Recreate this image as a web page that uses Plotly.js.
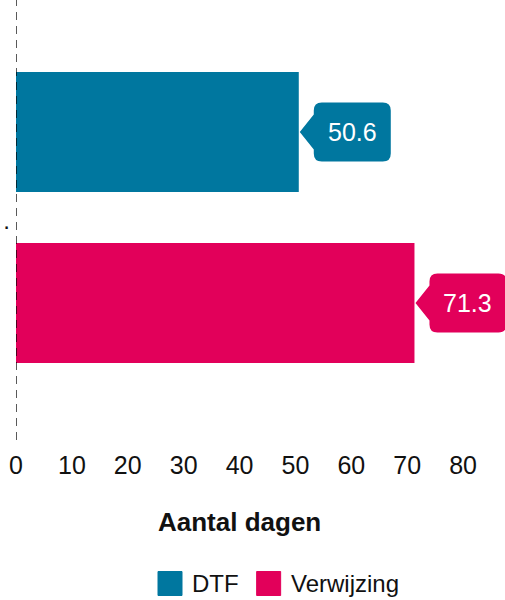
<!DOCTYPE html>
<html>
<head>
<meta charset="utf-8">
<script src="https://cdn.plot.ly/plotly-3.0.1.min.js"></script>
<style>html,body{margin:0;padding:0;background:#fff;}#chart{width:505px;height:600px;}</style>
</head>
<body>
<div id="chart"></div>
<script>
// ---- data ----
const categories = ['.'];
const seriesNames = ['DTF', 'Verwijzing'];
const dtfValues = [50.6];
const verwijzingValues = [71.3];
const tickValues = [0, 10, 20, 30, 40, 50, 60, 70, 80];
const axisTitle = 'Aantal dagen';

// ---- style ----
const colors = ['#00779F', '#E2005A'];
const FONT = 'Arial, "Liberation Sans", sans-serif';
const W = 505, H = 600;
const M = {l: 16, r: 0, t: 0, b: 165};
const PW = W - M.l - M.r, PH = H - M.t - M.b;
const XMAX = 87.5;            // axis range, ticks shown only up to 80
const BARGAP = 0.214, BARGROUPGAP = 0.298;
const px2x = p => (p - M.l) / PW;
const py2y = p => (H - M.b - p) / PH;

const seriesValues = [dtfValues, verwijzingValues];
const data = seriesNames.map((name, i) => ({
  type: 'bar', orientation: 'h', name: name,
  y: categories, x: seriesValues[i],
  marker: {color: colors[i]},
  hoverinfo: 'none', showlegend: false
}));

// centre offsets of grouped bars (in category units)
const groupW = 1 - BARGAP;
const offsets = seriesNames.map((_, i) => -groupW / 2 + groupW / seriesNames.length * (i + 0.5));

const shapes = [{
  type: 'line', xref: 'x', yref: 'paper', x0: 0, x1: 0, y0: py2y(440), y1: 1,
  line: {color: 'rgba(0,0,0,0.65)', width: 2, dash: '8px,6px'}, layer: 'above'
}];
const annotations = [];

const calloutPath = 'M1,0 L15,17.5 L15,21.5 Q15,29.5 23,29.5 L84,29.5 Q92,29.5 92,21.5 L92,-21.5 Q92,-29.5 84,-29.5 L23,-29.5 Q15,-29.5 15,-21.5 L15,-17.5 Z';

seriesNames.forEach((name, i) => {
  seriesValues[i].forEach((v, j) => {
    const yc = j + offsets[i];
    shapes.push({
      type: 'path', xref: 'x', yref: 'y', xsizemode: 'pixel', ysizemode: 'pixel',
      xanchor: v, yanchor: yc, path: calloutPath,
      fillcolor: colors[i], line: {width: 0}, layer: 'above'
    });
    annotations.push({
      xref: 'x', yref: 'y', x: v, y: yc, xshift: 53.5, showarrow: false,
      text: v.toFixed(1), font: {family: FONT, size: 25, color: '#ffffff'},
      xanchor: 'center', yanchor: 'middle'
    });
  });
});

// axis title, centred under the 0–80 tick span
annotations.push({
  xref: 'x', yref: 'paper', x: (tickValues[0] + tickValues[tickValues.length - 1]) / 2,
  y: py2y(522), showarrow: false, xanchor: 'center', yanchor: 'middle',
  text: '<b>' + axisTitle + '</b>', font: {family: FONT, size: 26, color: '#111111'}
});

// manual legend (large rounded swatches)
const ctx = document.createElement('canvas').getContext('2d');
ctx.font = '24px ' + FONT;
let lx = 158;
const ly = 583.5;
seriesNames.forEach((name, i) => {
  const x0 = px2x(lx), x1 = px2x(lx + 24), y0 = py2y(ly + 12), y1 = py2y(ly - 12);
  shapes.push({
    type: 'rect', xref: 'paper', yref: 'paper', x0: x0, x1: x1, y0: y0, y1: y1,
    fillcolor: colors[i], line: {color: colors[i], width: 1}
  });
  annotations.push({
    xref: 'paper', yref: 'paper', x: px2x(lx + 32), y: py2y(ly), showarrow: false,
    xanchor: 'left', yanchor: 'middle', text: name,
    font: {family: FONT, size: 24, color: '#111111'}
  });
  lx += 24 + 10 + ctx.measureText(name).width + 18;
});

const layout = {
  width: W, height: H, margin: M,
  paper_bgcolor: '#ffffff', plot_bgcolor: '#ffffff',
  barmode: 'group', bargap: BARGAP, bargroupgap: BARGROUPGAP,
  showlegend: false,
  font: {family: FONT, size: 24, color: '#111111'},
  xaxis: {
    range: [0, XMAX], tickvals: tickValues, ticktext: tickValues.map(String),
    showgrid: false, zeroline: false, showline: false, ticks: '',
    ticklabelstandoff: 13, automargin: false,
    tickfont: {family: FONT, size: 25, color: '#111111'}
  },
  yaxis: {
    type: 'category', autorange: 'reversed', showgrid: false, zeroline: false,
    showline: false, ticks: '', automargin: false,
    ticklabelstandoff: 5, ticklabelshift: -3,
    tickfont: {family: FONT, size: 24, color: '#111111'}
  },
  shapes: shapes, annotations: annotations
};

Plotly.newPlot('chart', data, layout, {staticPlot: true, displayModeBar: false});
</script>
</body>
</html>
